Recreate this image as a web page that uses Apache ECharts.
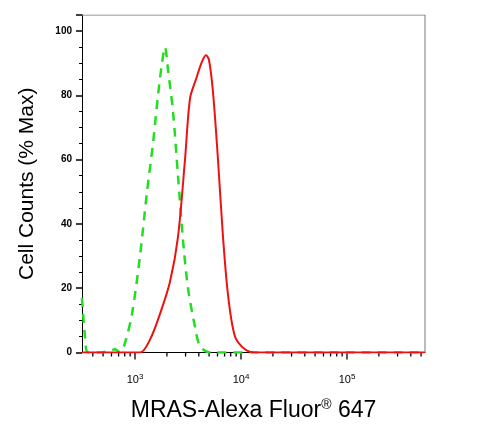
<!DOCTYPE html><html><head><script src="https://cdn.jsdelivr.net/npm/echarts@6/dist/echarts.min.js"></script></head><body style="margin:0"><div id="c" style="width:478px;height:427px"></div><script>
const xToLog=x=>3+(x-135)/106;
const redPx=[[82,0],[140,0],[150,4],[160,12],[170,22],[178,36],[185,60],[190,79],[196,85],[202,90.5],[206,92.5],[209,91],[213,81],[218,60],[223,36],[228,18],[235,5],[245,1],[255,0],[425,0]];
const greenPx=[[82,17],[85,5],[88,0],[100,0],[110,0.5],[115,1],[120,0],[125,3],[132,12],[140,30],[147,50],[153,65],[158,80],[162,90],[165,95],[168,88],[173,75],[178,55],[183,35],[188,20],[195,8],[200,2],[210,0],[425,0]];
const red=redPx.map(p=>[xToLog(p[0]),p[1]]);
const green=greenPx.map(p=>[xToLog(p[0]),p[1]]);
const decades=[3,4,5];
const minor=[];for(let d=2;d<=5;d++)for(let k=2;k<=9;k++){const v=d+Math.log10(k);if(v>2.5&&v<5.736)minor.push([v,0]);}
const ch=echarts.init(document.getElementById('c'));
const tickSeries=(data,len)=>({type:'custom',silent:true,data,renderItem:(p,api)=>{const pt=api.coord([api.value(0),0]);return{type:'line',shape:{x1:pt[0],y1:pt[1],x2:pt[0],y2:pt[1]+len},style:{stroke:'#000',lineWidth:1.3}};}});
ch.setOption({animation:false,
grid:{left:82,right:53,top:15,bottom:69},
xAxis:{type:'value',min:2.5,max:5.736,interval:0.5,name:'MRAS-Alexa Fluor{s|®} 647',nameLocation:'middle',nameGap:46,
nameTextStyle:{fontFamily:'Liberation Sans',fontSize:23,color:'#000',rich:{s:{fontSize:14,verticalAlign:'top',padding:[0,0,10,0]}}},
axisLine:{lineStyle:{color:'#000'}},axisTick:{show:false},splitLine:{show:false},
axisLabel:{fontFamily:'Liberation Sans',fontSize:11,color:'#000',margin:20,formatter:v=>decades.includes(v)?'10{s|'+v+'}':'',rich:{s:{fontSize:8,verticalAlign:'top',padding:[0,0,6,0]}}}},
yAxis:{type:'value',min:0,max:105,interval:20,name:'Cell Counts (% Max)',nameLocation:'middle',nameGap:44,
nameTextStyle:{fontFamily:'Liberation Sans',fontSize:21,color:'#000'},
axisLine:{show:true,lineStyle:{color:'#000'}},axisTick:{length:6,lineStyle:{width:1.5}},minorTick:{show:true,splitNumber:4,length:3},splitLine:{show:false},
axisLabel:{fontFamily:'Liberation Sans',fontSize:10,fontWeight:'bold',color:'#000',margin:10,formatter:v=>v<=100?v:''}},
series:[
tickSeries(minor,4),tickSeries(decades.map(d=>[d,0]),7),
{type:'line',data:green,showSymbol:false,smooth:0.3,lineStyle:{color:'#22dd22',width:2.5,type:[9,7]}},
{type:'line',data:red,showSymbol:false,smooth:0.3,lineStyle:{color:'#ee1111',width:2}},
{type:'line',data:[[2.5,105],[5.736,105]],showSymbol:false,lineStyle:{color:'#777',width:1},silent:true},
{type:'line',data:[[5.736,0],[5.736,105]],showSymbol:false,lineStyle:{color:'#777',width:1},silent:true}
]});
</script></body></html>
